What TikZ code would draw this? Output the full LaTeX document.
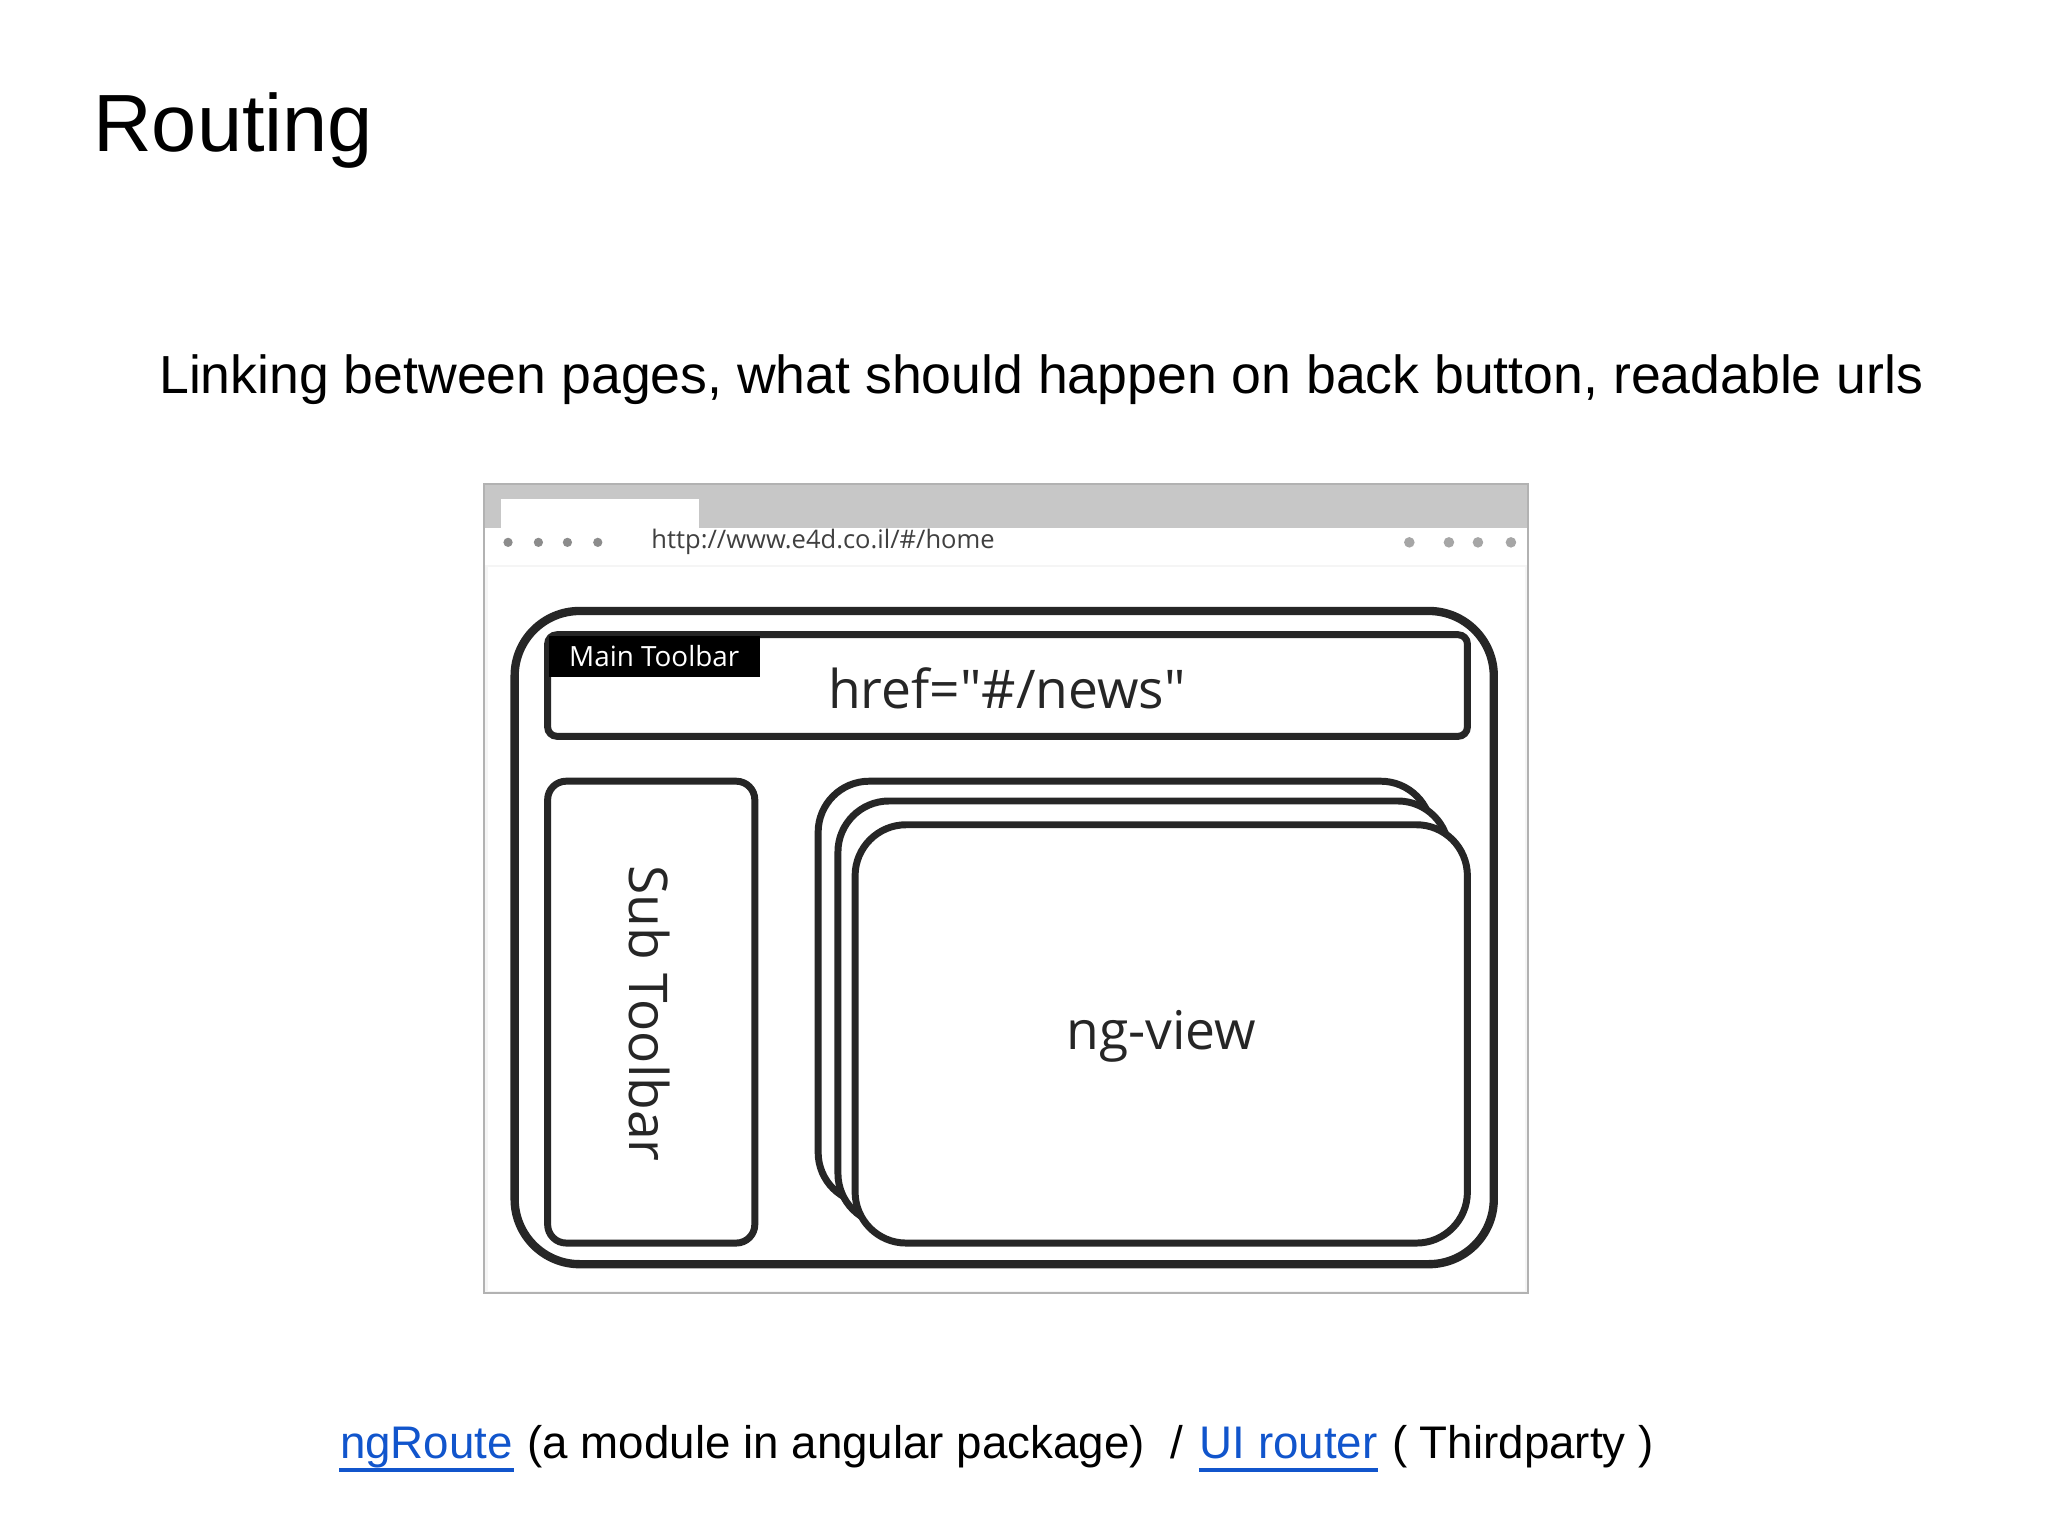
\documentclass[tikz,border=0pt]{standalone}
\usepackage{fontspec}
\setmainfont{Liberation Sans}
\newfontfamily\ui{Open Sans}
\definecolor{lnk}{RGB}{17,85,204}
\begin{document}
\begin{tikzpicture}[x=0.01cm,y=-0.01cm,
  box/.style={draw=black!85,line width=1.5pt,rounded corners=5pt,fill=white},
  card/.style={draw=black!85,line width=1.5pt,rounded corners=11pt,fill=white},
  ft/.style={anchor=base west,inner sep=0,font=\fontsize{9.85}{13}\selectfont}]
\useasboundingbox (0,0) rectangle (1552,1164);
\node[anchor=base west,inner sep=0,font=\fontsize{17.5}{21}\selectfont] (title) at (70,115) {Routing};
\node[anchor=base west,inner sep=0,font=\fontsize{11.55}{15}\selectfont] (sub) at (120,298) {Linking between pages, what should happen on back button, readable urls};
% browser
\fill[black!4] (367,367) rectangle (1158,980);
\fill[black!22] (367,367) rectangle (1158,400);
\fill[white] (380,378) rectangle (530,400);
\fill[white] (367,400) rectangle (1158,428);
\draw[black!30] (367,367) rectangle (1158,980);
\node[anchor=west,inner sep=0,font=\ui\fontsize{5.5}{7}\selectfont,text=black!75] (url) at (493,411) {http://www.e4d.co.il/\#/home};
\foreach \xx in {385,408,430,453} \fill[black!45] (\xx,411) circle (3.5);
\foreach \xx in {1068,1098,1120,1145} \fill[black!35] (\xx,411) circle (4);
\fill[white] (370,430) rectangle (1156,978);
\draw[box,rounded corners=14pt,line width=1.8pt] (390,463) rectangle (1132,958);
\draw[box,rounded corners=2pt] (415,481) rectangle (1112,558);
\node[fill=black,text=white,anchor=north west,minimum width=1.6cm,minimum height=0.31cm,inner sep=0,font=\ui\fontsize{6}{7}\selectfont] (mt) at (415,481) {Main Toolbar};
\node[font=\ui\fontsize{11.5}{14}\selectfont,text=black!85] (href) at (763,522) {href="\#/news"};
\draw[box,rounded corners=4pt] (415,592) rectangle (572,942);
\node[rotate=-90,font=\ui\fontsize{11.5}{14}\selectfont,text=black!85] (st) at (492,768) {Sub Toolbar};
\draw[card] (620,592) rectangle (1085,912);
\draw[card] (635,607) rectangle (1098,928);
\draw[card] (648,625) rectangle (1112,942);
\node[font=\ui\fontsize{11.5}{14}\selectfont,text=black!85] (ng) at (880,785) {ng-view};
\node[ft,text=lnk] (l1) at (257,1105) {ngRoute};
\draw[lnk,line width=0.8pt] ([yshift=-2.5pt]l1.base west) -- ([yshift=-2.5pt]l1.base east);
\node[ft] (t1) at (l1.base east) {\ (a module in angular package)\ \ /\strut};
\node[ft,text=lnk] (l2) at ([xshift=3.2pt]t1.base east) {UI router};
\draw[lnk,line width=0.8pt] ([yshift=-2.5pt]l2.base west) -- ([yshift=-2.5pt]l2.base east);
\node[ft] (t2) at (l2.base east) {\ ( Thirdparty )};
\end{tikzpicture}
\end{document}
